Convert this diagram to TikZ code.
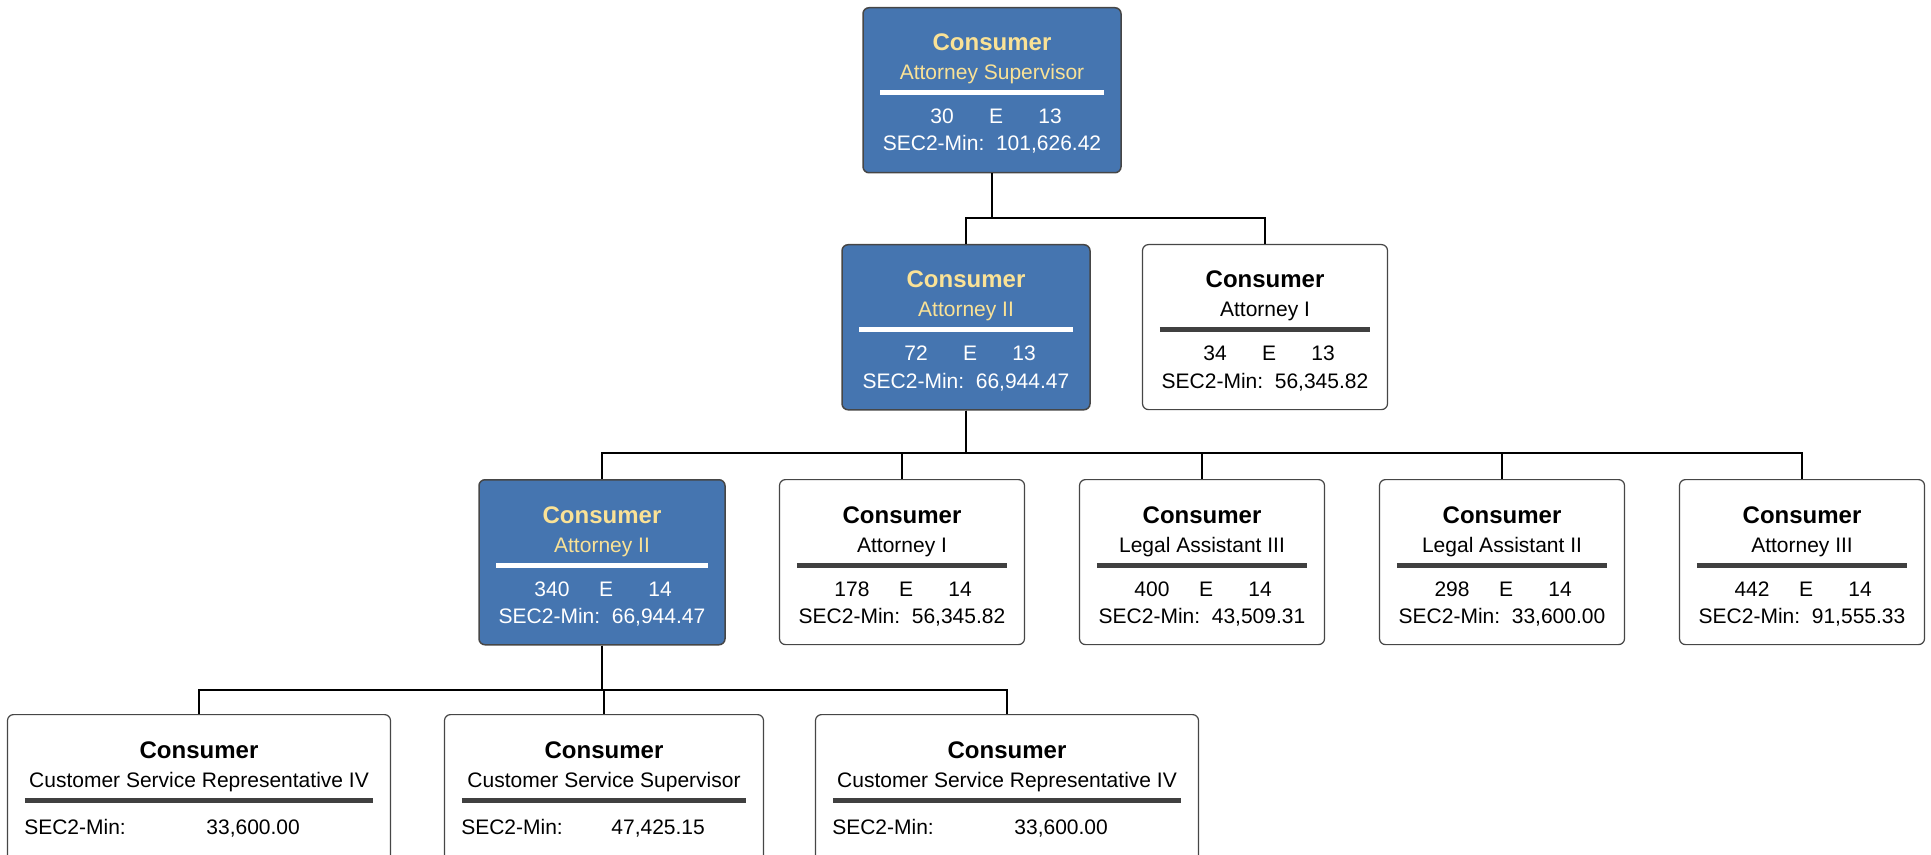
\documentclass[tikz,border=0pt]{standalone}
\usepackage{fontspec}
\setmainfont{Liberation Sans}
\usetikzlibrary{positioning, calc}
\definecolor{CardBlue}{RGB}{69,117,176}
\definecolor{CardGold}{RGB}{250,226,150}
\definecolor{CardEdge}{RGB}{70,70,70}
\definecolor{CardRule}{RGB}{64,64,64}

% card frame, head and title (#1 name, #2 centre x, #3 top y, #4 width, #5 kind, #6 title)
\newcommand{\orgcard}[6]{%
  \node[#5 box, minimum width=#4*0.5pt, anchor=north] (#1) at (#2,#3) {};
  \node[#5 head] at ($(#1.north)+(0,44)$) {Consumer};
  \node[#5 title] at ($(#1.north)+(0,73)$) {#6};
  \draw[#5 rule] ($(#1.north west)+(18,86)$) -- ($(#1.north east)+(-18,86)$);
}
% stats and pay row (#1 name, #2 kind, #3 count, #4 grade, #5 pay)
\newcommand{\orgstats}[5]{%
  \node[#2 body] at ($(#1.north)+(-50,117)$) {#3};
  \node[#2 body] at ($(#1.north)+(4,117)$) {E};
  \node[#2 body] at ($(#1.north)+(58,117)$) {#4};
  \node[#2 body] at ($(#1.north)+(0,144)$) {SEC2-Min:\ \ #5};
}
% pay row only (#1 name, #2 pay)
\newcommand{\orgpay}[2]{%
  \node[staff body, anchor=base west] at ($(#1.north west)+(17,120)$) {SEC2-Min:};
  \node[staff body, anchor=base west] at ($(#1.north)+(7,120)$) {#2};
}

\begin{document}
\begin{tikzpicture}[
    x=0.5pt, y=-0.5pt,
    every node/.style={inner sep=0pt},
    lead box/.style={rectangle, draw=CardEdge, fill=CardBlue, rounded corners=3pt, line width=0.75pt, minimum height=82.5pt},
    staff box/.style={rectangle, draw=CardEdge, fill=white, rounded corners=3pt, line width=0.6pt, minimum height=82.5pt},
    lead head/.style={anchor=base, text=CardGold, font=\fontsize{12}{14}\selectfont\bfseries},
    staff head/.style={anchor=base, text=black, font=\fontsize{12}{14}\selectfont\bfseries},
    lead title/.style={anchor=base, text=CardGold, font=\fontsize{10.5}{12.6}\selectfont},
    staff title/.style={anchor=base, text=black, font=\fontsize{10.5}{12.6}\selectfont},
    lead rule/.style={draw=white, line width=2.5pt},
    staff rule/.style={draw=CardRule, line width=2.5pt},
    lead body/.style={anchor=base, text=white, font=\fontsize{10.5}{12.6}\selectfont},
    staff body/.style={anchor=base, text=black, font=\fontsize{10.5}{12.6}\selectfont},
    link/.style={draw=black, line width=1pt}
  ]
    \clip (0,0) rectangle (1931,855);

    % Supervisor
    \orgcard{sup}{992}{7}{258}{lead}{Attorney Supervisor}
    \orgstats{sup}{lead}{30}{13}{101,626.42}

    % Second level
    \orgcard{att2}{966}{244}{248}{lead}{Attorney II}
    \orgstats{att2}{lead}{72}{13}{66,944.47}
    \orgcard{att1}{1265}{244}{245}{staff}{Attorney I}
    \orgstats{att1}{staff}{34}{13}{56,345.82}

    % Third level
    \orgcard{att2b}{602}{479}{246}{lead}{Attorney II}
    \orgstats{att2b}{lead}{340}{14}{66,944.47}
    \orgcard{att1b}{902}{479}{245}{staff}{Attorney I}
    \orgstats{att1b}{staff}{178}{14}{56,345.82}
    \orgcard{legal3}{1202}{479}{245}{staff}{Legal Assistant III}
    \orgstats{legal3}{staff}{400}{14}{43,509.31}
    \orgcard{legal2}{1502}{479}{245}{staff}{Legal Assistant II}
    \orgstats{legal2}{staff}{298}{14}{33,600.00}
    \orgcard{att3}{1802}{479}{245}{staff}{Attorney III}
    \orgstats{att3}{staff}{442}{14}{91,555.33}

    % Fourth level
    \orgcard{csr4a}{199}{714}{383}{staff}{Customer Service Representative IV}
    \orgpay{csr4a}{33,600.00}
    \orgcard{css}{604}{714}{319}{staff}{Customer Service Supervisor}
    \orgpay{css}{47,425.15}
    \orgcard{csr4b}{1007}{714}{383}{staff}{Customer Service Representative IV}
    \orgpay{csr4b}{33,600.00}

    % Connections
    \foreach \c in {att2, att1}
      \draw[link] (sup.south) -- ++(0,45) -| (\c.north);
    \foreach \c in {att2b, att1b, legal3, legal2, att3}
      \draw[link] (att2.south) -- ++(0,42) -| (\c.north);
    \foreach \c in {csr4a, css, csr4b}
      \draw[link] (att2b.south) -- ++(0,44) -| (\c.north);
  \end{tikzpicture}
\end{document}
